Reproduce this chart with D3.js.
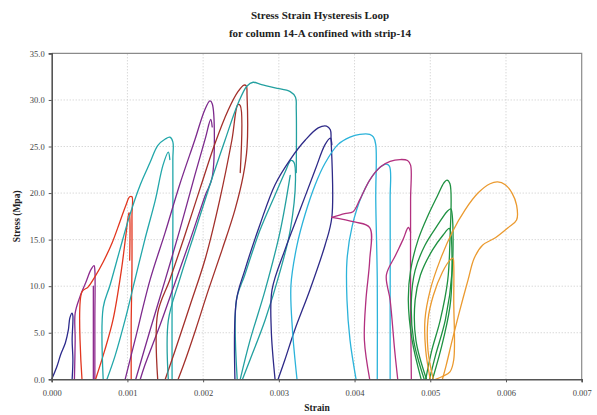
<!DOCTYPE html>
<html>
<head>
<meta charset="utf-8">
<script src="https://cdn.jsdelivr.net/npm/d3@7"></script>
<style>
  html, body { margin: 0; padding: 0; background: #fff; }
  svg { display: block; }
</style>
</head>
<body>
<svg id="chart" width="597" height="415"></svg>
<script>
// Axis ticks
const xTicks = [0, 0.001, 0.002, 0.003, 0.004, 0.005, 0.006, 0.007];
const yTicks = [0, 5, 10, 15, 20, 25, 30, 35];

// Recorded loops: [strain, stress (MPa)]
const navyA = [[0,0],[0.00007,1.4],[0.00012,2.7],[0.00018,3.9],[0.00022,5.3],[0.00024,6.6],[0.00027,7.1],[0.00028,6.8],[0.00027,4.2],[0.00028,2.1],[0.00027,0]];

const purpleA = [[0.00030,0],[0.00031,4.2],[0.00031,7.1],[0.00037,8.8],[0.00045,10.4],[0.00052,11.8],[0.00056,12.2],[0.00057,11.7],[0.00057,6.4],[0.00057,0]];
const purpleB = [[0.00055,0],[0.00055,5.3],[0.00055,10.0]];

const redA = [[0.00040,0],[0.00040,9.4],[0.00048,9.9],[0.00057,11.0],[0.00068,12.6],[0.00080,14.7],[0.00090,16.9],[0.00098,18.7],[0.00103,19.6],[0.00106,19.6],[0.00106,17.6],[0.00106,11.7],[0.00105,6.4],[0.00105,0]];
const redB = [[0.00058,0],[0.00070,3.1],[0.00081,6.4],[0.00092,11.7],[0.00098,15.5],[0.00102,17.9],[0.00103,17.6],[0.00103,12.8]];

const tealA = [[0.00068,0],[0.00068,7.7],[0.00077,10.1],[0.00090,13.9],[0.00103,17.6],[0.00117,20.9],[0.00130,23.3],[0.00140,25.1],[0.00150,25.8],[0.00156,26.0],[0.00160,25.5],[0.00160,23.6],[0.00160,15.0],[0.00159,8.5],[0.00159,0]];
const tealB = [[0.00073,0],[0.00084,2.6],[0.00097,6.4],[0.00110,10.7],[0.00123,15.0],[0.00137,19.3],[0.00147,23.0],[0.00154,24.4],[0.00156,23.6]];

const violetA = [[0.00097,0],[0.00110,4.2],[0.00130,10.7],[0.00150,15.8],[0.00169,20.9],[0.00189,25.7],[0.00202,28.9],[0.00209,29.9],[0.00212,29.6],[0.00212,21.7],[0.00203,19.8],[0.00183,15.0],[0.00163,10.4],[0.00143,5.8],[0.00123,1.5],[0.00117,0]];
const violetB = [[0.00111,0],[0.00130,5.3],[0.00150,10.7],[0.00169,16.0],[0.00189,21.9],[0.00203,25.9],[0.00210,27.9],[0.00212,27.1]];

const brownA = [[0.00140,0],[0.00140,7.1],[0.00156,10.7],[0.00176,15.5],[0.00196,20.5],[0.00216,25.4],[0.00233,28.9],[0.00246,30.9],[0.00254,31.6],[0.00257,31.5],[0.00258,30.5],[0.00258,24.9],[0.00253,21.9],[0.00242,18.2],[0.00225,13.9],[0.00207,9.6],[0.00190,5.3],[0.00174,1.5],[0.00167,0]];
const brownB = [[0.00150,0],[0.00163,3.1],[0.00183,8.0],[0.00203,13.0],[0.00222,19.3],[0.00238,25.7],[0.00246,29.5],[0.00249,29.4],[0.00249,22.2]];

const tealC = [[0.00154,0],[0.00154,6.3],[0.00169,10.7],[0.00189,15.8],[0.00209,20.9],[0.00229,25.7],[0.00246,29.6],[0.00258,31.5],[0.00266,31.9],[0.00275,31.7],[0.00295,31.3],[0.00315,30.9],[0.00322,30.3],[0.00323,29.0],[0.00323,22.2]];
const tealD = [[0.00245,0],[0.00244,8.5],[0.00255,11.2],[0.00275,16.0],[0.00295,19.8],[0.00308,22.2],[0.00316,23.5],[0.00320,23.3],[0.00322,21.4],[0.00315,16.0],[0.00302,11.7],[0.00282,6.4],[0.00262,2.1],[0.00252,0]];
const tealE = [[0.00249,0],[0.00262,4.2],[0.00282,9.6],[0.00302,16.0],[0.00315,21.9]];

const navyB = [[0.00242,0],[0.00244,8.5],[0.00255,11.7],[0.00275,16.6],[0.00295,20.9],[0.00315,23.6],[0.00335,25.7],[0.00352,27.0],[0.00363,27.2],[0.00368,26.8],[0.00369,25.7],[0.00370,17.4],[0.00361,14.4],[0.00341,9.6],[0.00321,5.3],[0.00308,2.1],[0.00299,0]];
const navyC = [[0.00295,0],[0.00290,5.3],[0.00291,9.6],[0.00308,13.9],[0.00328,18.2],[0.00348,22.5],[0.00361,25.2],[0.00368,25.9],[0.00370,25.2]];

const cyanA = [[0.00324,0],[0.00318,5.3],[0.00316,10.1],[0.00324,14.4],[0.00335,17.8],[0.00348,20.9],[0.00361,23.2],[0.00378,25.2],[0.00394,26.0],[0.00407,26.3],[0.00420,26.3],[0.00425,26.0],[0.00428,25.2],[0.00428,19.3],[0.00430,10.7],[0.00430,0]];
const cyanB = [[0.00402,0],[0.00394,4.2],[0.00390,8.5],[0.00390,12.8],[0.00397,16.5],[0.00410,19.8],[0.00427,22.2],[0.00441,23.1],[0.00446,22.9],[0.00447,19.3],[0.00447,8.5],[0.00447,0]];

const magentaA = [[0.00370,17.4],[0.00387,17.8],[0.00398,18.0],[0.00407,19.3],[0.00420,21.4],[0.00434,22.8],[0.00447,23.4],[0.00460,23.6],[0.00470,23.5],[0.00474,23.0],[0.00474,19.3],[0.00474,8.5],[0.00475,0]];
const magentaB = [[0.00370,17.4],[0.00400,16.9],[0.00420,16.3],[0.00420,12.8],[0.00415,8.5],[0.00413,4.2],[0.00420,0]];
const magentaC = [[0.00457,0],[0.00453,3.1],[0.00447,8.5],[0.00442,11.2],[0.00454,13.3],[0.00464,15.0],[0.00471,16.3],[0.00474,15.8]];

const greenA = [[0.00488,0],[0.00476,4.2],[0.00471,8.5],[0.00474,11.7],[0.00484,15.0],[0.00497,17.6],[0.00510,19.8],[0.00518,21.1],[0.00522,21.4],[0.00526,21.0],[0.00526,15.0],[0.00523,10.6],[0.00513,6.3],[0.00502,3.1],[0.00494,0]];
const greenB = [[0.00492,0],[0.00478,4.2],[0.00475,8.5],[0.00480,11.7],[0.00493,14.4],[0.00510,16.6],[0.00522,18.0],[0.00527,18.3],[0.00529,17.6],[0.00529,11.7],[0.00520,6.4],[0.00507,2.6],[0.00499,0]];
const greenC = [[0.00495,0],[0.00481,4.2],[0.00480,8.5],[0.00487,11.2],[0.00503,13.9],[0.00517,15.5],[0.00525,16.2],[0.00527,15.8],[0.00527,8.5],[0.00517,4.2],[0.00503,0]];

const orangeA = [[0.00500,0],[0.00494,3.1],[0.00493,6.4],[0.00500,9.6],[0.00513,12.8],[0.00529,15.8],[0.00546,18.2],[0.00563,20.0],[0.00579,21.0],[0.00589,21.2],[0.00599,20.9],[0.00608,20.0],[0.00614,18.7],[0.00614,17.1],[0.00603,16.3],[0.00586,15.2],[0.00569,14.4],[0.00558,13.0],[0.00550,10.7],[0.00539,7.4],[0.00529,4.2],[0.00521,1.5],[0.00516,0]];
const orangeB = [[0.00504,0],[0.00497,3.1],[0.00497,6.4],[0.00504,9.0],[0.00516,11.5],[0.00526,12.8],[0.00530,13.0],[0.00531,12.3],[0.00531,8.5],[0.00531,2.1],[0.00526,0.8],[0.00516,0.3],[0.00507,0]];

// Each group shares one colour
const groups = [
  { color: "#2c2a8c", paths: [navyA] },
  { color: "#8e2c8e", paths: [purpleA, purpleB] },
  { color: "#e2361f", paths: [redA, redB] },
  { color: "#22a7aa", paths: [tealA, tealB] },
  { color: "#7d2a8d", paths: [violetA, violetB] },
  { color: "#a3302b", paths: [brownA, brownB] },
  { color: "#23a0a0", paths: [tealC, tealD, tealE] },
  { color: "#2e2a88", paths: [navyB, navyC] },
  { color: "#2bb3da", paths: [cyanA, cyanB] },
  { color: "#b2307f", paths: [magentaA, magentaB, magentaC] },
  { color: "#1e9141", paths: [greenA, greenB, greenC] },
  { color: "#eb9a2f", paths: [orangeA, orangeB] }
];

const svg = d3.select("#chart");
const margin = { left: 51.7, right: 15.3, top: 53.4, bottom: 35.7 };
const W = 597, H = 415;

const x = d3.scaleLinear().domain([0, 0.007]).range([margin.left, W - margin.right]);
const y = d3.scaleLinear().domain([0, 35]).range([H - margin.bottom, margin.top]);

const serif = "'Liberation Serif', 'Times New Roman', serif";

// Gridlines
svg.append("g")
  .selectAll("line")
  .data(yTicks.slice(1, -1))
  .join("line")
  .attr("x1", x(0)).attr("x2", x(0.007))
  .attr("y1", d => y(d)).attr("y2", d => y(d))
  .attr("stroke", "#c8c8c8").attr("stroke-width", 1)
  .attr("stroke-dasharray", "1,2");

svg.append("g")
  .selectAll("line")
  .data(xTicks.slice(1, -1))
  .join("line")
  .attr("y1", y(0)).attr("y2", y(35))
  .attr("x1", d => x(d)).attr("x2", d => x(d))
  .attr("stroke", "#c8c8c8").attr("stroke-width", 1)
  .attr("stroke-dasharray", "1,2");

// Plot frame (top and right)
svg.append("path")
  .attr("d", `M${x(0)},${y(35)}H${x(0.007)}V${y(0)}`)
  .attr("fill", "none").attr("stroke", "#8a8a8a").attr("stroke-width", 1.2);

// Loops
const line = d3.line().x(d => x(d[0])).y(d => y(d[1])).curve(d3.curveCatmullRom.alpha(0.5));
const gLoops = svg.append("g").attr("fill", "none").attr("stroke-width", 1.3)
  .attr("stroke-linejoin", "round").attr("stroke-linecap", "round");
groups.forEach(g => {
  gLoops.selectAll(null).data(g.paths).join("path")
    .attr("d", line).attr("stroke", g.color);
});

// Axes
const xAxis = d3.axisBottom(x).tickValues(xTicks).tickFormat(d3.format(".3f")).tickSize(3).tickPadding(8);
const yAxis = d3.axisLeft(y).tickValues(yTicks).tickFormat(d3.format(".1f")).tickSize(3).tickPadding(4);

const gx = svg.append("g").attr("transform", `translate(0,${y(0)})`).call(xAxis);
const gy = svg.append("g").attr("transform", `translate(${x(0)},0)`).call(yAxis);

[gx, gy].forEach(g => {
  g.select(".domain").attr("stroke", "#555").attr("stroke-width", 1.6);
  g.selectAll(".tick line").attr("stroke", "#555");
  g.selectAll(".tick text").attr("font-family", serif).attr("font-size", 8.5).attr("fill", "#444");
});

// Titles
svg.append("text").attr("x", 320).attr("y", 19).attr("text-anchor", "middle")
  .attr("font-family", serif).attr("font-weight", "bold").attr("font-size", 11).attr("fill", "#222")
  .text("Stress Strain Hysteresis Loop");
svg.append("text").attr("x", 320).attr("y", 37).attr("text-anchor", "middle")
  .attr("font-family", serif).attr("font-weight", "bold").attr("font-size", 11).attr("fill", "#222")
  .text("for column 14-A confined with strip-14");

svg.append("text").attr("x", 317).attr("y", 411).attr("text-anchor", "middle")
  .attr("font-family", serif).attr("font-weight", "bold").attr("font-size", 9.5).attr("fill", "#222")
  .text("Strain");

svg.append("text")
  .attr("transform", `translate(20,${(y(0) + y(35)) / 2}) rotate(-90)`)
  .attr("text-anchor", "middle")
  .attr("font-family", serif).attr("font-weight", "bold").attr("font-size", 9.5).attr("fill", "#222")
  .text("Stress (Mpa)");
</script>
</body>
</html>
